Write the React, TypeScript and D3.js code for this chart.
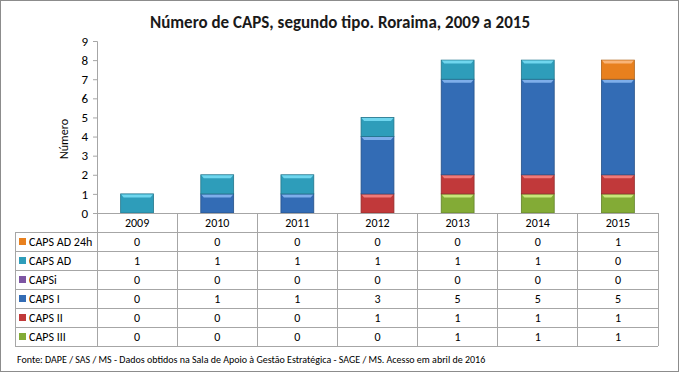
import React, { useEffect, useRef } from "react";
import * as d3 from "d3";

const years = ["2009", "2010", "2011", "2012", "2013", "2014", "2015"];
const seriesNames = ["CAPS AD 24h", "CAPS AD", "CAPSi", "CAPS I", "CAPS II", "CAPS III"];
const capsAd24h = [0, 0, 0, 0, 0, 0, 1];
const capsAd = [1, 1, 1, 1, 1, 1, 0];
const capsI_ = [0, 0, 0, 0, 0, 0, 0];
const capsI = [0, 1, 1, 3, 5, 5, 5];
const capsII = [0, 0, 0, 1, 1, 1, 1];
const capsIII = [0, 0, 0, 0, 1, 1, 1];
const yTicks = [0, 1, 2, 3, 4, 5, 6, 7, 8, 9];
const colors = ["#E8801E", "#2E9DBA", "#7D55A3", "#336CB5", "#C1393A", "#83AB36"];
const highlights = ["#F9B477", "#6FD6EE", "#B08DD0", "#7EAEEA", "#F07A78", "#C7E77A"];

const FONT = "Calibri, Carlito, 'Liberation Sans Narrow', 'Liberation Sans', Arial, sans-serif";

const App = () => {
  const svgRef = useRef<SVGSVGElement>(null);

  useEffect(() => {
    const svg = d3.select(svgRef.current);
    svg.selectAll("*").remove();

    const W = 680, H = 373;
    const plot = { left: 97, right: 658, top: 41, bottom: 213 };
    const tableLeft = 15;
    const rowH = 19;
    const values = [capsAd24h, capsAd, capsI_, capsI, capsII, capsIII];

    // outer frame
    svg.append("rect")
      .attr("x", 0.5).attr("y", 0.5)
      .attr("width", W - 2).attr("height", H - 2)
      .attr("fill", "#fff").attr("stroke", "#8c8c8c");

    svg.append("text")
      .attr("x", 340).attr("y", 28)
      .attr("text-anchor", "middle")
      .attr("font-family", FONT).attr("font-weight", "bold").attr("font-size", 17)
      .attr("fill", "#1a1a1a")
      .text("Número de CAPS, segundo tipo. Roraima, 2009 a 2015");

    const xScale = d3.scaleBand().domain(years).range([plot.left, plot.right]).padding(0);
    const yScale = d3.scaleLinear().domain([0, 9]).range([plot.bottom, plot.top]);

    // y axis
    const yAxis = d3.axisLeft(yScale).tickValues(yTicks).tickSize(4).tickPadding(5);
    const gy = svg.append("g").attr("transform", `translate(${plot.left},0)`).call(yAxis);
    gy.selectAll("path,line").attr("stroke", "#a6a6a6");
    gy.selectAll("text").attr("font-family", FONT).attr("font-size", 13).attr("fill", "#000");

    svg.append("text")
      .attr("transform", `translate(68,139) rotate(-90)`)
      .attr("text-anchor", "middle")
      .attr("font-family", FONT).attr("font-size", 12)
      .text("Número");

    // stacked bars, bottom to top: CAPS III ... CAPS AD 24h
    const stackOrder = [5, 4, 3, 2, 1, 0];
    const barW = xScale.bandwidth() * 0.41;
    years.forEach((yr, i) => {
      let acc = 0;
      const x = (xScale(yr) as number) + (xScale.bandwidth() - barW) / 2;
      stackOrder.forEach((s) => {
        const v = values[s][i];
        if (!v) return;
        const y0 = yScale(acc), y1 = yScale(acc + v);
        acc += v;
        const g = svg.append("g");
        g.append("rect")
          .attr("x", x).attr("y", y1)
          .attr("width", barW).attr("height", y0 - y1)
          .attr("fill", colors[s])
          .attr("stroke", d3.color(colors[s])!.darker(0.8).toString())
          .attr("stroke-width", 0.8);
        g.append("path")
          .attr("d", `M${x + 0.5},${y1 + 0.5} L${x + barW - 0.5},${y1 + 0.5} L${x + barW - 3},${y1 + 3.5} L${x + 3},${y1 + 3.5} Z`)
          .attr("fill", highlights[s]);
      });
    });

    // data table
    const gridColor = "#a6a6a6";
    const tableTop = plot.bottom + rowH;
    const tableBottom = tableTop + rowH * seriesNames.length;
    const grid = svg.append("g").attr("stroke", gridColor).attr("shape-rendering", "crispEdges");
    grid.append("line").attr("x1", plot.left - 4).attr("x2", plot.right).attr("y1", plot.bottom).attr("y2", plot.bottom);
    d3.range(seriesNames.length + 1).forEach((r) => {
      grid.append("line")
        .attr("x1", tableLeft).attr("x2", plot.right)
        .attr("y1", tableTop + r * rowH).attr("y2", tableTop + r * rowH);
    });
    grid.append("line").attr("x1", tableLeft).attr("x2", tableLeft).attr("y1", tableTop).attr("y2", tableBottom);
    [...years.map((y) => xScale(y) as number), plot.right].forEach((xx) => {
      grid.append("line").attr("x1", xx).attr("x2", xx).attr("y1", plot.bottom).attr("y2", tableBottom);
    });

    years.forEach((yr) => {
      svg.append("text")
        .attr("x", (xScale(yr) as number) + xScale.bandwidth() / 2)
        .attr("y", plot.bottom + rowH / 2 + 4.5)
        .attr("text-anchor", "middle")
        .attr("font-family", FONT).attr("font-size", 12)
        .text(yr);
    });

    seriesNames.forEach((name, r) => {
      const cy = tableTop + r * rowH + rowH / 2;
      svg.append("rect")
        .attr("x", 19).attr("y", cy - 3.5)
        .attr("width", 7).attr("height", 7)
        .attr("fill", colors[r]);
      svg.append("text")
        .attr("x", 29).attr("y", cy + 4.5)
        .attr("font-family", FONT).attr("font-size", 12)
        .text(name);
      years.forEach((yr, i) => {
        svg.append("text")
          .attr("x", (xScale(yr) as number) + xScale.bandwidth() / 2)
          .attr("y", cy + 4.5)
          .attr("text-anchor", "middle")
          .attr("font-family", FONT).attr("font-size", 12)
          .text(values[r][i]);
      });
    });

    svg.append("text")
      .attr("x", 17).attr("y", 363)
      .attr("font-family", FONT).attr("font-size", 10)
      .text("Fonte: DAPE / SAS / MS - Dados obtidos na Sala de Apoio à Gestão Estratégica - SAGE / MS. Acesso em abril de 2016");
  }, []);

  return (
    <div style={{ position: "fixed", left: 0, top: 0 }}>
      <svg ref={svgRef} width={680} height={373} style={{ display: "block" }}></svg>
    </div>
  );
};

export default App;
